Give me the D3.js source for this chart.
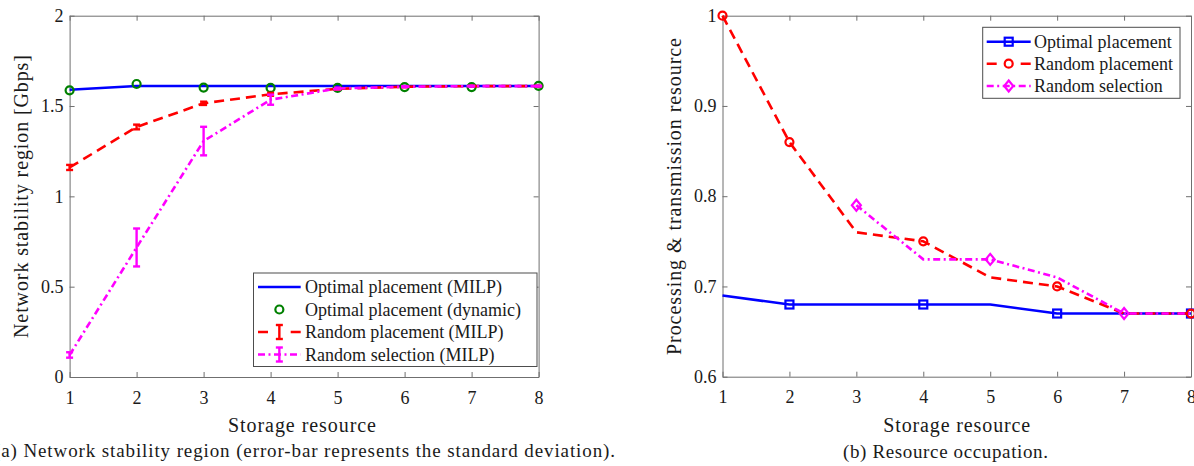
<!DOCTYPE html>
<html>
<head>
<meta charset="utf-8">
<script src="https://cdn.jsdelivr.net/npm/d3@7"></script>
<style>
  html, body { margin: 0; padding: 0; background: #fff; }
  svg { display: block; }
  svg text { font-family: "Liberation Serif", "Times New Roman", Times, serif; fill: #1a1a1a; }
</style>
</head>
<body>
<script>
// ---- shared x values ----
const storage = [1, 2, 3, 4, 5, 6, 7, 8];
const xTickLabels = ["1", "2", "3", "4", "5", "6", "7", "8"];

// ---- (a) network stability region [Gbps] ----
const optimalMilp = [1.59, 1.611, 1.611, 1.611, 1.611, 1.611, 1.611, 1.611];
const optimalDynamic = [1.587, 1.622, 1.602, 1.600, 1.600, 1.605, 1.605, 1.612];
const randPlaceMean = [1.160, 1.384, 1.515, 1.565, 1.595, 1.607, 1.610, 1.610];
const randPlaceStd = [0.014, 0.013, 0.009, 0.008, 0.004, 0.003, 0.002, 0.002];
const randSelMean = [0.122, 0.717, 1.306, 1.535, 1.597, 1.607, 1.610, 1.610];
const randSelStd = [0.015, 0.105, 0.079, 0.028, 0.005, 0.003, 0.002, 0.002];
const aYTicks = [0, 0.5, 1, 1.5, 2];
const aYTickLabels = ["0", "0.5", "1", "1.5", "2"];

// ---- (b) resource occupation ----
const occOptimal = [0.69, 0.68, 0.68, 0.68, 0.68, 0.67, 0.67, 0.67];
const occRandPlace = [1.00, 0.86, 0.76, 0.75, 0.71, 0.70, 0.67, 0.67];
const occRandSel = [null, null, 0.79, 0.73, 0.73, 0.71, 0.67, 0.67];
const occOptimalMarks = [2, 4, 6, 8];
const occRandPlaceMarks = [1, 2, 4, 6, 8];
const occRandSelMarks = [3, 5, 7];
const bYTicks = [0.6, 0.7, 0.8, 0.9, 1];
const bYTickLabels = ["0.6", "0.7", "0.8", "0.9", "1"];

const SERIF = '"Liberation Serif", "Times New Roman", Times, serif';
const BLUE = "#0000ff", RED = "#ff0000", MAGENTA = "#ff00ff", GREEN = "#008000";
const AXIS = "#6f6f6f";
const LW = 2.6;
const DASH = "10,6";
const DASHDOT = "7,3.5,2,3.5";

const svg = d3.select("body").append("svg")
  .attr("width", 1194).attr("height", 466)
  .attr("font-family", SERIF);
svg.append("rect").attr("width", 1194).attr("height", 466).attr("fill", "#fff");

// scales
const xA = d3.scaleLinear().domain([1, 8]).range([69.6, 538.6]);
const yA = d3.scaleLinear().domain([0, 2]).range([377, 15.7]);
const xB = d3.scaleLinear().domain([1, 8]).range([722.5, 1191]);
const yB = d3.scaleLinear().domain([0.6, 1]).range([376.7, 15.7]);

function label(sel) {
  return sel.append("text").attr("font-family", SERIF).attr("fill", "#1a1a1a");
}

function frame(x, y, yTicks, yLabels) {
  const g = svg.append("g");
  const [x0, x1] = x.range();
  const [y0, y1] = y.range();
  g.append("g").attr("transform", `translate(0,${y0})`)
    .call(d3.axisBottom(x).tickValues(storage).tickSizeInner(-5).tickSizeOuter(0)
      .tickPadding(14).tickFormat((d, i) => xTickLabels[i]));
  g.append("g").attr("transform", `translate(${x0},0)`)
    .call(d3.axisLeft(y).tickValues(yTicks).tickSizeInner(-5).tickSizeOuter(0)
      .tickPadding(6).tickFormat((d, i) => yLabels[i]));
  g.append("g").attr("transform", `translate(0,${y1})`)
    .call(d3.axisTop(x).tickValues(storage).tickSizeInner(-5).tickSizeOuter(0).tickFormat(""));
  g.append("g").attr("transform", `translate(${x1},0)`)
    .call(d3.axisRight(y).tickValues(yTicks).tickSizeInner(-5).tickSizeOuter(0).tickFormat(""));
  g.selectAll("g").attr("font-family", SERIF);
  g.selectAll(".domain").attr("stroke", AXIS).attr("stroke-width", 1);
  g.selectAll(".tick line").attr("stroke", AXIS).attr("stroke-width", 1);
  g.selectAll(".tick text").attr("font-size", 18)
    .attr("font-family", SERIF).attr("fill", "#1a1a1a");
  return g;
}

function drawLine(x, y, values, color, dash) {
  const pts = storage.map((s, i) => ({ s, v: values[i] }));
  const line = d3.line().defined(d => d.v != null).x(d => x(d.s)).y(d => y(d.v));
  svg.append("path").datum(pts)
    .attr("d", line).attr("fill", "none").attr("stroke", color)
    .attr("stroke-width", LW).attr("stroke-dasharray", dash || null)
    .attr("stroke-linejoin", "round");
}

function errorBars(x, y, mean, std, color) {
  const g = svg.append("g").attr("stroke", color).attr("stroke-width", 2.4);
  storage.forEach((s, i) => {
    const cx = x(s), top = y(mean[i] + std[i]), bot = y(mean[i] - std[i]);
    g.append("line").attr("x1", cx).attr("x2", cx).attr("y1", top).attr("y2", bot);
    g.append("line").attr("x1", cx - 3.5).attr("x2", cx + 3.5).attr("y1", top).attr("y2", top);
    g.append("line").attr("x1", cx - 3.5).attr("x2", cx + 3.5).attr("y1", bot).attr("y2", bot);
  });
}

function marker(g, kind, cx, cy, color) {
  if (kind === "circle") {
    g.append("circle").attr("cx", cx).attr("cy", cy).attr("r", 4)
      .attr("fill", "none").attr("stroke", color).attr("stroke-width", 2.2);
  } else if (kind === "square") {
    g.append("rect").attr("x", cx - 4).attr("y", cy - 4).attr("width", 8).attr("height", 8)
      .attr("fill", "none").attr("stroke", color).attr("stroke-width", 2.2);
  } else if (kind === "diamond") {
    g.append("path").attr("d", `M${cx},${cy - 5.5}L${cx + 4.5},${cy}L${cx},${cy + 5.5}L${cx - 4.5},${cy}Z`)
      .attr("fill", "none").attr("stroke", color).attr("stroke-width", 2.2);
  } else if (kind === "errbar") {
    const e = g.append("g").attr("stroke", color).attr("stroke-width", 2.4);
    e.append("line").attr("x1", cx).attr("x2", cx).attr("y1", cy - 7).attr("y2", cy + 7);
    e.append("line").attr("x1", cx - 3.5).attr("x2", cx + 3.5).attr("y1", cy - 7).attr("y2", cy - 7);
    e.append("line").attr("x1", cx - 3.5).attr("x2", cx + 3.5).attr("y1", cy + 7).attr("y2", cy + 7);
  }
}

function markers(x, y, values, which, kind, color) {
  const g = svg.append("g");
  which.forEach(s => {
    const v = values[storage.indexOf(s)];
    if (v != null) marker(g, kind, x(s), y(v), color);
  });
}

function legend(box, rows, sample, textX) {
  const g = svg.append("g");
  g.append("rect").attr("x", box.x).attr("y", box.y).attr("width", box.w).attr("height", box.h)
    .attr("fill", "#fff").attr("stroke", "#4d4d4d").attr("stroke-width", 1);
  rows.forEach(r => {
    if (r.showLine !== false) {
      g.append("line").attr("x1", sample[0]).attr("x2", sample[1]).attr("y1", r.cy).attr("y2", r.cy)
        .attr("stroke", r.color).attr("stroke-width", LW)
        .attr("stroke-dasharray", r.dash || null);
    }
    if (r.marker) marker(g, r.marker, (sample[0] + sample[1]) / 2, r.cy, r.color);
    label(g).attr("x", textX).attr("y", r.cy + 6).attr("font-size", 18)
      .attr("textLength", r.len).attr("lengthAdjust", "spacing").text(r.label);
  });
}

// ================= (a) =================
frame(xA, yA, aYTicks, aYTickLabels);
drawLine(xA, yA, optimalMilp, BLUE);
markers(xA, yA, optimalDynamic, storage, "circle", GREEN);
drawLine(xA, yA, randPlaceMean, RED, DASH);
errorBars(xA, yA, randPlaceMean, randPlaceStd, RED);
drawLine(xA, yA, randSelMean, MAGENTA, DASHDOT);
errorBars(xA, yA, randSelMean, randSelStd, MAGENTA);

legend({ x: 253.5, y: 273, w: 283.5, h: 93.5 }, [
  { label: "Optimal placement (MILP)", color: BLUE, cy: 287, len: 197 },
  { label: "Optimal placement (dynamic)", color: GREEN, showLine: false, marker: "circle", cy: 309.5, len: 216 },
  { label: "Random placement (MILP)", color: RED, dash: "10,22.7", marker: "errbar", cy: 332, len: 198.5 },
  { label: "Random selection (MILP)", color: MAGENTA, dash: DASHDOT, marker: "errbar", cy: 354.5, len: 189.5 }
], [258, 300.7], 305);

label(svg).attr("x", 302).attr("y", 431.5).attr("text-anchor", "middle")
  .attr("font-size", 20).attr("textLength", 148).attr("lengthAdjust", "spacing")
  .text("Storage resource");
label(svg).attr("transform", "translate(28,196.5) rotate(-90)").attr("text-anchor", "middle")
  .attr("font-size", 20).attr("textLength", 283).attr("lengthAdjust", "spacing")
  .text("Network stability region [Gbps]");
label(svg).attr("x", -6).attr("y", 457)
  .attr("font-size", 19).attr("textLength", 621).attr("lengthAdjust", "spacing")
  .text("(a) Network stability region (error-bar represents the standard deviation).");

// ================= (b) =================
frame(xB, yB, bYTicks, bYTickLabels);
drawLine(xB, yB, occOptimal, BLUE);
markers(xB, yB, occOptimal, occOptimalMarks, "square", BLUE);
drawLine(xB, yB, occRandPlace, RED, DASH);
markers(xB, yB, occRandPlace, occRandPlaceMarks, "circle", RED);
drawLine(xB, yB, occRandSel, MAGENTA, DASHDOT);
markers(xB, yB, occRandSel, occRandSelMarks, "diamond", MAGENTA);

legend({ x: 982.7, y: 27.3, w: 197.3, h: 71 }, [
  { label: "Optimal placement", color: BLUE, marker: "square", cy: 41.7, len: 137.7 },
  { label: "Random placement", color: RED, dash: "10,24", marker: "circle", cy: 63.7, len: 139 },
  { label: "Random selection", color: MAGENTA, dash: DASHDOT, marker: "diamond", cy: 86, len: 128.7 }
], [986.7, 1030.7], 1034);

label(svg).attr("x", 956.7).attr("y", 431.5).attr("text-anchor", "middle")
  .attr("font-size", 20).attr("textLength", 147).attr("lengthAdjust", "spacing")
  .text("Storage resource");
label(svg).attr("transform", "translate(681,196.5) rotate(-90)").attr("text-anchor", "middle")
  .attr("font-size", 20).attr("textLength", 317).attr("lengthAdjust", "spacing")
  .text("Processing & transmission resource");
label(svg).attr("x", 843).attr("y", 458)
  .attr("font-size", 19).attr("textLength", 205).attr("lengthAdjust", "spacing")
  .text("(b) Resource occupation.");
</script>
</body>
</html>
